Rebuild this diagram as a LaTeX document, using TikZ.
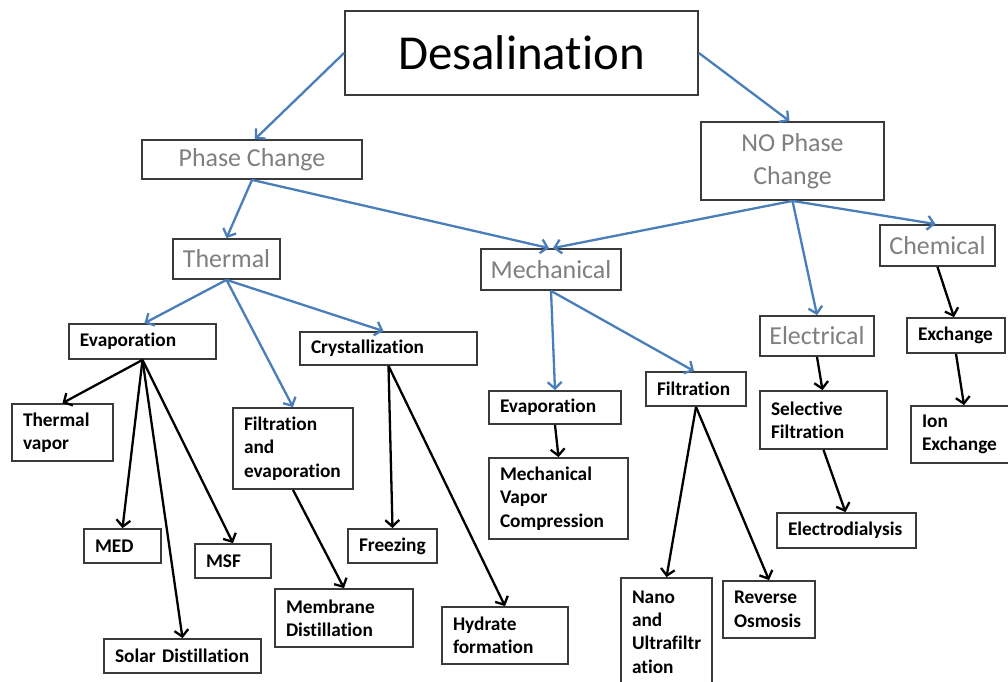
\documentclass[tikz,border=0pt]{standalone}
\usepackage{fontspec}
\setmainfont{Carlito}[Ligatures={NoCommon}]
\usetikzlibrary{arrows.meta}
\definecolor{boxline}{HTML}{3A3A3A}
\definecolor{graytxt}{HTML}{7F7F7F}
\definecolor{bluearr}{HTML}{4A7EBB}
\tikzset{
  box/.style={draw=boxline, line width=1.8bp, rectangle, inner sep=0pt},
  topbox/.style={box, font=\fontsize{49}{58}\selectfont, text=black},
  graybox/.style={box, font=\fontsize{26}{33}\selectfont, text=graytxt, align=center},
  leafbox/.style={box, font=\fontsize{19.4}{23.5}\selectfont\bfseries, text=black, align=left, inner xsep=11bp},
  barrow/.style={draw=bluearr, line width=2.3bp, -{Straight Barb[length=6.5bp,width=14bp,line width=2.3bp]}},
  karrow/.style={draw=black, line width=2.3bp, -{Straight Barb[length=6.5bp,width=14bp,line width=2.3bp]}},
}
% leaf box: name, x, y, width W, height H, text
\newcommand{\leaf}[6]{\node[leafbox, minimum width=#4bp, minimum height=#5bp, text width=#4bp-22bp] (#1) at (#2,#3) {#6};}
\begin{document}
\begin{tikzpicture}[x=1bp,y=-1bp]
\useasboundingbox (0,0) rectangle (1008,682);
\clip (0,0) rectangle (1008,682);
\fill[white] (0,0) rectangle (1008,682);

\node[topbox, minimum width=353bp, minimum height=84bp] (desal) at (521.5,53) {Desalination};

\node[graybox, minimum width=220bp, minimum height=39bp] (pc) at (252,159.5) {Phase Change};
\node[graybox, minimum width=183bp, minimum height=78bp] (nopc) at (792.5,161) {NO Phase\\Change};
\node[graybox, minimum width=107bp, minimum height=40bp] (thermal) at (226.5,259) {Thermal};
\node[graybox, minimum width=140bp, minimum height=41bp] (mech) at (551,269.5) {Mechanical};
\node[graybox, minimum width=115bp, minimum height=41bp] (chem) at (937.5,245.5) {Chemical};
\node[graybox, minimum width=114bp, minimum height=40bp] (elec) at (817,336) {Electrical};

\leaf{exch}{956}{335.5}{98}{35}{Exchange}
\leaf{evapa}{142.5}{341.5}{147}{35}{Evaporation}
\leaf{cryst}{388.5}{348.5}{177}{33}{Crystallization}
\leaf{tv}{62.5}{432.5}{101}{57}{Thermal\\vapor}
\leaf{fae}{293}{448.5}{120}{81}{Filtration\\and\\evaporation}
\leaf{med}{122.5}{546}{77}{34}{MED}
\leaf{msf}{233}{561}{76}{34}{MSF}
\leaf{solar}{182.5}{656}{157}{34}{Solar Distillation}
\leaf{memb}{344}{618}{138}{58}{Membrane\\Distillation}
\leaf{freez}{392.5}{546}{89}{34}{Freezing}
\leaf{hyd}{505}{635.5}{126}{57}{Hydrate\\formation}
\leaf{evapb}{555}{407.5}{132}{33}{Evaporation}
\leaf{mvc}{558.5}{498.5}{139}{81}{Mechanical\\Vapor\\Compression}
\leaf{filt}{696}{389}{100}{34}{Filtration}
\leaf{nano}{666.5}{632}{91}{108}{Nano\\and\\Ultrafiltr\\ation}
\leaf{ro}{769}{609.5}{92}{57}{Reverse\\Osmosis}
\leaf{sel}{823.5}{420}{127}{58}{Selective\\Filtration}
\leaf{ed}{846.5}{530.5}{139}{35}{Electrodialysis}
\leaf{ion}{966}{434.5}{110}{57}{Ion\\Exchange}

% blue connectors
\draw[barrow] (desal.west) -- ([xshift=3bp]pc.north);
\draw[barrow] (desal.east) -- ([xshift=-3bp]nopc.north);
\draw[barrow] (pc.south) -- (thermal.north);
\draw[barrow] (pc.south) -- ([xshift=-2bp]mech.north);
\draw[barrow] (nopc.south) -- ([xshift=2bp]mech.north);
\draw[barrow] (nopc.south) -- (elec.north);
\draw[barrow] (nopc.south) -- ([xshift=-2bp]chem.north);
\draw[barrow] (thermal.south) -- ([xshift=2bp]evapa.north);
\draw[barrow] (thermal.south) -- ([xshift=-5bp]cryst.north);
\draw[barrow] (thermal.south) -- (fae.north);
\draw[barrow] (mech.south) -- (evapb.north);
\draw[barrow] (mech.south) -- ([xshift=-2bp]filt.north);

% black connectors
\draw[karrow] (chem.south) -- ([xshift=-2bp]exch.north);
\draw[karrow] (evapa.south) -- (tv.north);
\draw[karrow] (evapa.south) -- (med.north);
\draw[karrow] (evapa.south) -- (solar.north);
\draw[karrow] (evapa.south) -- (msf.north);
\draw[karrow] (fae.south) -- (memb.north);
\draw[karrow] (cryst.south) -- (freez.north);
\draw[karrow] (cryst.south) -- (hyd.north);
\draw[karrow] (evapb.south) -- (mvc.north);
\draw[karrow] (filt.south) -- (nano.north);
\draw[karrow] (filt.south) -- (ro.north);
\draw[karrow] (elec.south) -- ([xshift=-1bp]sel.north);
\draw[karrow] (sel.south) -- ([xshift=-1bp]ed.north);
\draw[karrow] (exch.south) -- ([xshift=-2bp]ion.north);
\end{tikzpicture}
\end{document}
